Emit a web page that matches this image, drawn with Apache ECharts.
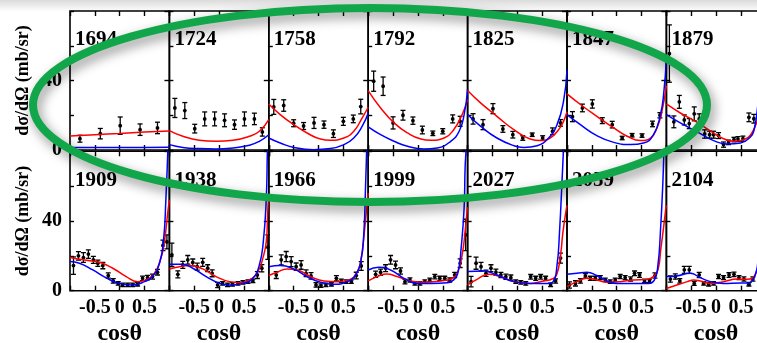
<!DOCTYPE html>
<html><head><meta charset="utf-8">
<script src="https://cdn.jsdelivr.net/npm/echarts@6/dist/echarts.min.js"></script>
<style>html,body{margin:0;padding:0;background:#fff}#c{width:757px;height:343px}</style>
</head><body><div id="c"></div><script>
// ---- data: [cosθ, dσ/dΩ, error] points; [cosθ, value] model curves ----
const energies = ['1694','1724','1758','1792','1825','1847','1879','1909','1938','1966','1999','2027','2059','2104'];
const xTicks = [-0.5, 0, 0.5];
const yTickLabels = [0, 40];

const e1694 = [[-0.80,6.5,2],[-0.39,9.4,3],[0.01,14,5],[0.41,11.7,3.3],[0.76,12.7,3.3]];
const red1694 = [[-1,8.1],[-0.5,8.8],[0,9.5],[0.5,10.3],[1,11]];
const blue1694 = [[-1,1.5],[0,1.4],[1,1.6]];

const e1724 = [[-0.89,24.2,5.5],[-0.69,22.7,4.6],[-0.49,12.3,2.5],[-0.29,17.9,4],[-0.09,17.9,4],[0.11,17.1,3.7],[0.31,14.6,2.7],[0.51,17.9,4],[0.71,17.9,3.3],[0.87,10.4,2.4]];
const red1724 = [[-1,11.2],[-0.73,7.9],[-0.4,5.6],[-0.06,5],[0.28,5.6],[0.61,7.9],[0.81,10.8],[1,17.5]];
const blue1724 = [[-1,3.1],[-0.73,1.5],[-0.4,0.8],[-0.06,0.6],[0.28,1.2],[0.61,2.7],[0.81,5],[1,8.8]];

const e1758 = [[-0.90,24.8,4.3],[-0.70,25.6,3.3],[-0.50,15.4,2],[-0.30,13.8,2],[-0.09,15.6,3.2],[0.11,14.6,2.1],[0.30,9.4,2.2],[0.50,16.5,2.3],[0.70,17.9,2.2],[0.85,25,4.2]];
const red1758 = [[-1,26.5],[-0.77,20.4],[-0.5,14.6],[-0.23,9.8],[0.04,6.3],[0.24,5.6],[0.51,6.9],[0.71,10.8],[0.88,18.5],[1,24.6]];
const blue1758 = [[-1,6.9],[-0.77,4],[-0.5,1.5],[-0.1,0.2],[0.24,0.8],[0.51,3.1],[0.71,6.9],[0.88,13.7],[1,21.3]];

const e1792 = [[-0.89,39.6,5.8],[-0.70,36.7,5.3],[-0.50,15.6,3.5],[-0.30,20,2.8],[-0.10,16.9,2.1],[0.09,11.5,2.2],[0.30,9.6,1.3],[0.50,10.8,1.5],[0.70,17.9,2.3],[0.85,16.5,2.9]];
const red1792 = [[-1,34.2],[-0.75,24.2],[-0.48,15.6],[-0.21,9.8],[0.06,6.3],[0.26,5.6],[0.53,6.9],[0.72,11.7],[0.89,20.4],[1,29]];
const blue1792 = [[-1,13.3],[-0.75,8.8],[-0.48,5],[-0.21,2.1],[0.12,0.6],[0.39,1.2],[0.66,5],[0.83,10.8],[0.93,20.4],[1,34.8]];

const e1825 = [[-0.89,17.9,3],[-0.69,14.6,2.9],[-0.49,23.8,2.9],[-0.29,12.1,1.9],[-0.09,8.8,1.9],[0.11,6.9,1.3],[0.30,8.8,1],[0.51,6.9,1.3],[0.71,10.8,1.9],[0.87,15.6,1.9]];
const red1825 = [[-1,34.2],[-0.74,27.1],[-0.41,19.4],[-0.07,11.7],[0.26,6.3],[0.46,5.4],[0.66,6.9],[0.83,11.7],[0.93,16.5],[1,22]];
const blue1825 = [[-1,20.4],[-0.74,13.7],[-0.41,6.9],[-0.07,2.5],[0.13,1.5],[0.40,2.5],[0.63,6.9],[0.80,14.6],[0.93,28],[1,46]];

const e1847 = [[-0.89,19.2,2.9],[-0.69,24.2,2.2],[-0.49,26.5,2.4],[-0.29,16.9,1.7],[-0.09,14.6,1.9],[0.11,6.9,1],[0.31,8.5,1],[0.51,8.3,1],[0.72,15,1.6],[0.87,20,1.5]];
const red1847 = [[-1,32.3],[-0.73,26.2],[-0.4,19.4],[-0.06,12.7],[0.21,7.9],[0.48,5.4],[0.68,6.9],[0.81,12.7],[0.91,22.3],[1,37]];
const blue1847 = [[-1,20.4],[-0.73,14.6],[-0.4,8.3],[-0.06,4.4],[0.28,3.1],[0.54,4],[0.74,8.8],[0.88,20.4],[0.95,33.8],[1,53]];

const e1879 = [[-0.94,55.5,16.5],[-0.85,16.2,3.4],[-0.74,27.7,3.7],[-0.64,17.3,2.9],[-0.54,15.2,2.9],[-0.44,20.8,4],[-0.34,17.9,2.9],[-0.23,9.2,2.4],[-0.13,8.8,2],[-0.05,8.8,2],[0.05,8.3,1.7],[0.15,3.1,1.5],[0.25,4.4,1.3],[0.36,6,1.3],[0.44,6.3,1.4],[0.54,6.5,1.5],[0.66,18.8,2.5],[0.76,18,2.5]];
const red1879 = [[-1,26.5],[-0.72,21.3],[-0.38,15.9],[-0.11,10.8],[0.15,6.5],[0.36,5],[0.56,6],[0.72,9.8],[0.84,18.5],[0.92,30],[1,48]];
const blue1879 = [[-1,20.4],[-0.72,15.6],[-0.38,10.4],[-0.05,5.4],[0.22,3.5],[0.49,4],[0.69,7.5],[0.76,11],[0.84,26],[0.92,50],[1,90]];

const e1909 = [[-0.93,14.4,5],[-0.83,20,2.4],[-0.73,19,2.8],[-0.63,21,2.4],[-0.53,17.7,2],[-0.44,15.8,1.8],[-0.34,14.4,1.8],[-0.23,8.7,1.5],[-0.13,5.6,1.3],[-0.03,4.2,1],[0.06,3.3,1],[0.16,3.3,1],[0.26,3.3,1],[0.36,3.7,1],[0.46,7.1,1.3],[0.56,7.5,1.3],[0.66,8.1,1.4],[0.76,10.6,1.6],[0.87,26,3],[0.95,28,4]];
const red1909 = [[-1,19],[-0.74,17.7],[-0.41,16.3],[-0.14,12.9],[0.13,8.1],[0.36,5.2],[0.53,6.2],[0.70,10],[0.83,18.7],[0.9,28.3],[0.97,45.6],[1,52]];
const blue1909 = [[-1,16.7],[-0.81,15.8],[-0.54,11.9],[-0.28,7.5],[-0.01,4.2],[0.26,3.3],[0.5,5.2],[0.66,8.1],[0.8,15.8],[0.88,28.3],[0.93,53],[0.97,82],[1,115]];

const e1938 = [[-0.95,20.6,6.7],[-0.83,9.4,2],[-0.73,14.8,2],[-0.63,17.7,2.5],[-0.53,16.2,2],[-0.44,13.8,2],[-0.33,16.3,2.3],[-0.23,12.9,2],[-0.14,10,2],[-0.03,3.3,1.5],[0.07,4.2,1],[0.17,3.3,1],[0.27,3.7,1],[0.38,4.2,1],[0.48,4.8,1],[0.58,5.2,1],[0.68,5.6,1],[0.77,9,2],[0.86,12.9,2.1],[0.98,25,7]];
const red1938 = [[-1,12.5],[-0.8,13.8],[-0.6,14.4],[-0.33,12.5],[-0.06,8.1],[0.21,5.2],[0.41,4.6],[0.61,6.2],[0.78,11],[0.88,18.7],[0.95,28.3],[0.98,45.6],[1,53]];
const blue1938 = [[-1,15.2],[-0.77,15.2],[-0.53,12.9],[-0.26,8.1],[0.01,4.2],[0.21,3.3],[0.48,4.2],[0.68,7.1],[0.81,14.8],[0.89,28.3],[0.95,53.3],[0.97,78],[1,110]];

const e1966 = [[-0.85,9,2],[-0.75,17.7,2.9],[-0.65,19.6,2.9],[-0.55,16.7,2.9],[-0.45,13.8,2.1],[-0.35,14.8,2.5],[-0.25,10,1.9],[-0.15,8.5,1.9],[-0.05,3.3,1.3],[0.05,2.9,1],[0.15,3.3,1],[0.26,3.7,1],[0.36,7.1,1.5],[0.46,5.6,1],[0.56,5.2,1],[0.66,5.2,1],[0.76,8.7,1.9],[0.86,14.2,2.5]];
const red1966 = [[-1,8.7],[-0.83,10.6],[-0.63,12.5],[-0.43,11.9],[-0.16,8.1],[0.11,5.6],[0.38,5.2],[0.61,6.2],[0.78,11],[0.86,18.7],[0.91,30.2],[0.97,47.5],[1,56]];
const blue1966 = [[-1,13.8],[-0.77,14.4],[-0.5,12.5],[-0.23,8.1],[0.04,4.8],[0.31,3.7],[0.58,5.2],[0.75,9],[0.85,16.7],[0.91,32],[0.95,63],[0.97,82],[1,115]];

const e1999 = [[-0.85,9.4,1.8],[-0.75,10.6,1.8],[-0.65,12.9,2],[-0.55,17.7,2.5],[-0.45,14.8,2.2],[-0.35,11.3,1.8],[-0.26,5.2,1.3],[-0.16,6.2,1.2],[-0.06,4.2,1],[0.04,4.2,1],[0.14,5.2,1],[0.24,6.2,1],[0.34,8.1,1.3],[0.44,7.1,1.2],[0.54,7.1,1.2],[0.64,6.2,1.2],[0.74,9,1.5],[0.85,15.8,2.5],[0.96,32,9]];
const red1999 = [[-1,5.6],[-0.82,8.1],[-0.62,9.6],[-0.42,8.1],[-0.15,5.6],[0.12,4.8],[0.46,5.6],[0.66,6.7],[0.79,10],[0.89,20.6],[0.95,34],[0.99,45.6],[1,48]];
const blue1999 = [[-1,11.9],[-0.79,13.5],[-0.55,11.9],[-0.28,7.1],[-0.01,4.2],[0.26,4.2],[0.59,4.6],[0.72,6.2],[0.81,11],[0.87,24.4],[0.93,47.5],[0.95,70.6],[0.97,82],[1,115]];

const e2027 = [[-0.93,5.2,3],[-0.83,15.8,3.5],[-0.73,13.8,2.5],[-0.63,10,1.8],[-0.53,12.9,2],[-0.43,10.6,1.8],[-0.33,9,1.5],[-0.23,8,1.5],[-0.13,7.5,1.5],[-0.03,5.2,1],[0.07,4.8,1],[0.17,4.2,1],[0.27,8,1.3],[0.37,7.1,1.2],[0.47,8,1.3],[0.57,7.1,1.2],[0.67,3.3,1],[0.77,5.6,1.2],[0.87,18.7,2.9]];
const red2027 = [[-1,3.3],[-0.81,6.5],[-0.58,9.4],[-0.34,8.1],[-0.07,5.2],[0.26,4.2],[0.53,5.6],[0.7,6.7],[0.79,9],[0.87,20.6],[0.92,34],[0.99,47.5],[1,49]];
const blue2027 = [[-1,11],[-0.68,11.3],[-0.41,9],[-0.07,5.2],[0.26,4.2],[0.6,4.2],[0.72,5.2],[0.8,14.8],[0.85,34],[0.9,63],[0.93,82],[1,130]];

const e2059 = [[-0.95,3.3,1.8],[-0.83,4.2,1.5],[-0.73,5.6,1.3],[-0.63,8.5,1.3],[-0.53,7.1,1.2],[-0.43,7.1,1.2],[-0.33,7.5,1.2],[-0.23,6.2,1],[-0.13,5.2,1],[-0.03,6.2,1],[0.07,8.1,1.2],[0.17,7.5,1.2],[0.28,6.7,1.2],[0.36,10,1.3],[0.46,9,1.3],[0.56,5.6,1],[0.66,5.6,1],[0.77,8.7,1.5]];
const red2059 = [[-1,2.3],[-0.8,5.2],[-0.6,7.1],[-0.4,6.2],[-0.19,4.8],[0.07,5.2],[0.34,6.2],[0.61,6.5],[0.74,8.1],[0.83,11.9],[0.89,24.4],[0.95,37.9],[0.99,47.5],[1,49]];
const blue2059 = [[-1,9.4],[-0.8,10],[-0.6,10.6],[-0.4,8.7],[-0.19,5.6],[0.01,4.2],[0.41,4.2],[0.64,4.2],[0.76,6.2],[0.83,14.8],[0.88,34],[0.93,63],[0.95,82],[1,140]];

const e2104 = [[-0.92,6.7,1.8],[-0.82,8.1,1.5],[-0.73,5.6,1.3],[-0.64,12,2],[-0.54,12,2],[-0.44,4.2,1.2],[-0.34,9,1.5],[-0.25,4.2,1],[-0.15,3.7,1],[-0.05,4.2,1],[0.05,8.1,1.2],[0.15,7.5,1.2],[0.26,9,1.3],[0.36,9.4,1.3],[0.46,7.5,1.2],[0.56,6.7,1.2],[0.66,3.7,1],[0.74,6.7,1.2]];
const red2104 = [[-1,1.3],[-0.79,3.3],[-0.58,5.2],[-0.45,6.2],[-0.32,5.6],[-0.11,4.2],[0.15,5.2],[0.42,6.7],[0.62,6.5],[0.74,7.5],[0.81,11],[0.84,14],[0.9,25],[0.95,40],[1,52]];
const blue2104 = [[-1,8.1],[-0.79,8.5],[-0.52,10],[-0.32,7.5],[-0.11,5.2],[0.15,4.2],[0.49,4.4],[0.66,4.4],[0.74,6.2],[0.81,11],[0.84,16.7],[0.9,40],[0.95,80],[1,120]];

const pointSets = [e1694,e1724,e1758,e1792,e1825,e1847,e1879,e1909,e1938,e1966,e1999,e2027,e2059,e2104];
const redSets = [red1694,red1724,red1758,red1792,red1825,red1847,red1879,red1909,red1938,red1966,red1999,red2027,red2059,red2104];
const blueSets = [blue1694,blue1724,blue1758,blue1792,blue1825,blue1847,blue1879,blue1909,blue1938,blue1966,blue1999,blue2027,blue2059,blue2104];

// ---- layout ----
const FONT = 'Liberation Serif';
const PW = 99.4, L0 = 70;
const rows = [{top: 11, h: 139}, {top: 151.3, h: 139.4}];
const grids = [], xAxes = [], yAxes = [], series = [], titles = [];

function errRender(params, api) {
  const x = api.value(0), y = api.value(1), e = api.value(2);
  const p = api.coord([x, y]), lo = api.coord([x, y - e]), hi = api.coord([x, y + e]);
  const st = {stroke: '#000', lineWidth: 1.3};
  return {type: 'group', children: [
    {type: 'line', shape: {x1: lo[0], y1: lo[1], x2: hi[0], y2: hi[1]}, style: st},
    {type: 'line', shape: {x1: lo[0]-2.5, y1: lo[1], x2: lo[0]+2.5, y2: lo[1]}, style: st},
    {type: 'line', shape: {x1: hi[0]-2.5, y1: hi[1], x2: hi[0]+2.5, y2: hi[1]}, style: st},
    {type: 'circle', shape: {cx: p[0], cy: p[1], r: 1.9}, style: {fill: '#000'}}
  ]};
}

energies.forEach((lab, i) => {
  const r = i < 7 ? 0 : 1, c = i % 7;
  const left = L0 + PW * c;
  grids.push({left: left, top: rows[r].top, width: PW, height: rows[r].h, show: true,
    borderColor: '#000', borderWidth: 1.6, backgroundColor: 'transparent',
    containLabel: false, outerBoundsMode: 'none'});
  const tickStyle = {color: '#000', width: 1.4};
  const noLine = {show: false, onZero: false};
  xAxes.push({type: 'value', gridIndex: i, min: -1, max: 1, interval: 0.5, position: 'bottom',
    axisLine: noLine, splitLine: {show: false},
    axisTick: {inside: true, length: 5, lineStyle: tickStyle},
    axisLabel: {show: r === 1, margin: 7, fontFamily: FONT, fontSize: 20, fontWeight: 'bold', color: '#000',
      formatter: v => xTicks.indexOf(v) >= 0 ? String(v) : ''},
    name: r === 1 ? 'cosθ' : '', nameLocation: 'middle', nameGap: 31,
    nameTextStyle: {fontFamily: FONT, fontSize: 24, fontWeight: 'bold', color: '#000'}});
  xAxes.push({type: 'value', gridIndex: i, min: -1, max: 1, interval: 0.5, position: 'top',
    axisLine: noLine, splitLine: {show: false}, axisLabel: {show: false},
    axisTick: {inside: true, length: 5, lineStyle: tickStyle}});
  yAxes.push({type: 'value', gridIndex: i, min: 0, max: 80, interval: 20, position: 'left',
    axisLine: noLine, splitLine: {show: false},
    axisTick: {inside: true, length: 4, lineStyle: tickStyle},
    axisLabel: {show: c === 0, margin: 8, fontFamily: FONT, fontSize: 20, fontWeight: 'bold', color: '#000',
      formatter: v => yTickLabels.indexOf(v) >= 0 ? String(v) : ''},
    name: c === 0 ? 'dσ/dΩ (mb/sr)' : '', nameLocation: 'middle', nameGap: 38, nameRotate: 90,
    nameTextStyle: {fontFamily: FONT, fontSize: 18, fontWeight: 'bold', color: '#000'}});
  yAxes.push({type: 'value', gridIndex: i, min: 0, max: 80, interval: 40, position: 'right',
    axisLine: noLine, splitLine: {show: false}, axisLabel: {show: false},
    axisTick: {inside: true, length: 5, lineStyle: tickStyle}});
  titles.push({text: lab, left: left + 5, top: rows[r].top + 18.5, padding: 0,
    textStyle: {fontFamily: FONT, fontSize: 21, fontWeight: 'bold', color: '#000'}});
  const common = {xAxisIndex: 2*i, yAxisIndex: 2*i, silent: true, animation: false};
  series.push(Object.assign({type: 'line', data: redSets[i], smooth: 0.5,
    symbol: 'none', clip: true, lineStyle: {color: '#ff0000', width: 1.5}}, common));
  series.push(Object.assign({type: 'line', data: blueSets[i], smooth: 0.5,
    symbol: 'none', clip: true, lineStyle: {color: '#0000ff', width: 1.5}}, common));
  series.push(Object.assign({type: 'custom', data: pointSets[i], renderItem: errRender, clip: true}, common));
});

const chart = echarts.init(document.getElementById('c'), null, {renderer: 'canvas'});
chart.setOption({
  animation: false,
  backgroundColor: '#fff',
  title: titles, grid: grids, xAxis: xAxes, yAxis: yAxes, series: series,
  graphic: [
    {type: 'rect', silent: true, z: 0, shape: {x: 0, y: 0, width: 757, height: 12},
      style: {fill: new echarts.graphic.LinearGradient(0, 0, 0, 1, [
        {offset: 0, color: 'rgba(0,0,0,0.14)'}, {offset: 1, color: 'rgba(0,0,0,0)'}])}},
    {type: 'ellipse', silent: true, z: 100, shape: {cx: 370, cy: 105, rx: 337, ry: 97},
      style: {fill: 'none', stroke: '#12a64b', lineWidth: 8,
        shadowBlur: 12, shadowColor: 'rgba(0,0,0,0.45)', shadowOffsetX: 3, shadowOffsetY: 5}}
  ]
});
</script></body></html>
